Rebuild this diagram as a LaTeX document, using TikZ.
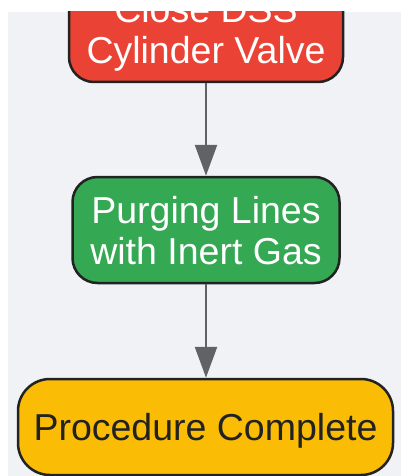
\documentclass[tikz,border=0pt]{standalone}
\usepackage{fontspec}
\setmainfont{Liberation Sans}
\usetikzlibrary{arrows.meta}
\definecolor{panelbg}{HTML}{F1F2F5}
\definecolor{stepred}{HTML}{EA4335}
\definecolor{stepgreen}{HTML}{34A853}
\definecolor{stepyellow}{HTML}{FBBC05}
\definecolor{edgedark}{HTML}{222222}
\definecolor{arrowgray}{HTML}{5F6368}
\begin{document}
\begin{tikzpicture}[x=1pt,y=-1pt,
  stepbox/.style={draw=edgedark, line width=2.5pt, rounded corners=25pt,
    align=center, inner sep=0pt, text depth=0pt,
    font=\fontsize{37.5}{41}\selectfont},
  flow/.style={draw=arrowgray, line width=2.5pt,
    -{Triangle[length=31pt,width=22pt]}}]
\useasboundingbox (0,0) rectangle (401,476);
\fill[panelbg] (8,12) rectangle (401,476);
\begin{scope}
\clip (8,12) rectangle (401,476);
\node[stepbox, fill=stepred, text=white, minimum width=274pt, minimum height=105pt]
  (close) at (206,29.5) {Close DSS\\Cylinder Valve};
\end{scope}
\node[stepbox, fill=stepgreen, text=white, minimum width=267pt, minimum height=106pt]
  (purge) at (206,230) {Purging Lines\\with Inert Gas};
\node[stepbox, fill=stepyellow, text=edgedark, rounded corners=32pt,
  minimum width=375pt, minimum height=96pt]
  (done) at (205.5,427) {Procedure Complete};
\draw[flow] (close.south) -- (purge.north);
\draw[flow] (purge.south) -- (purge.south |- done.north);
\end{tikzpicture}
\end{document}
